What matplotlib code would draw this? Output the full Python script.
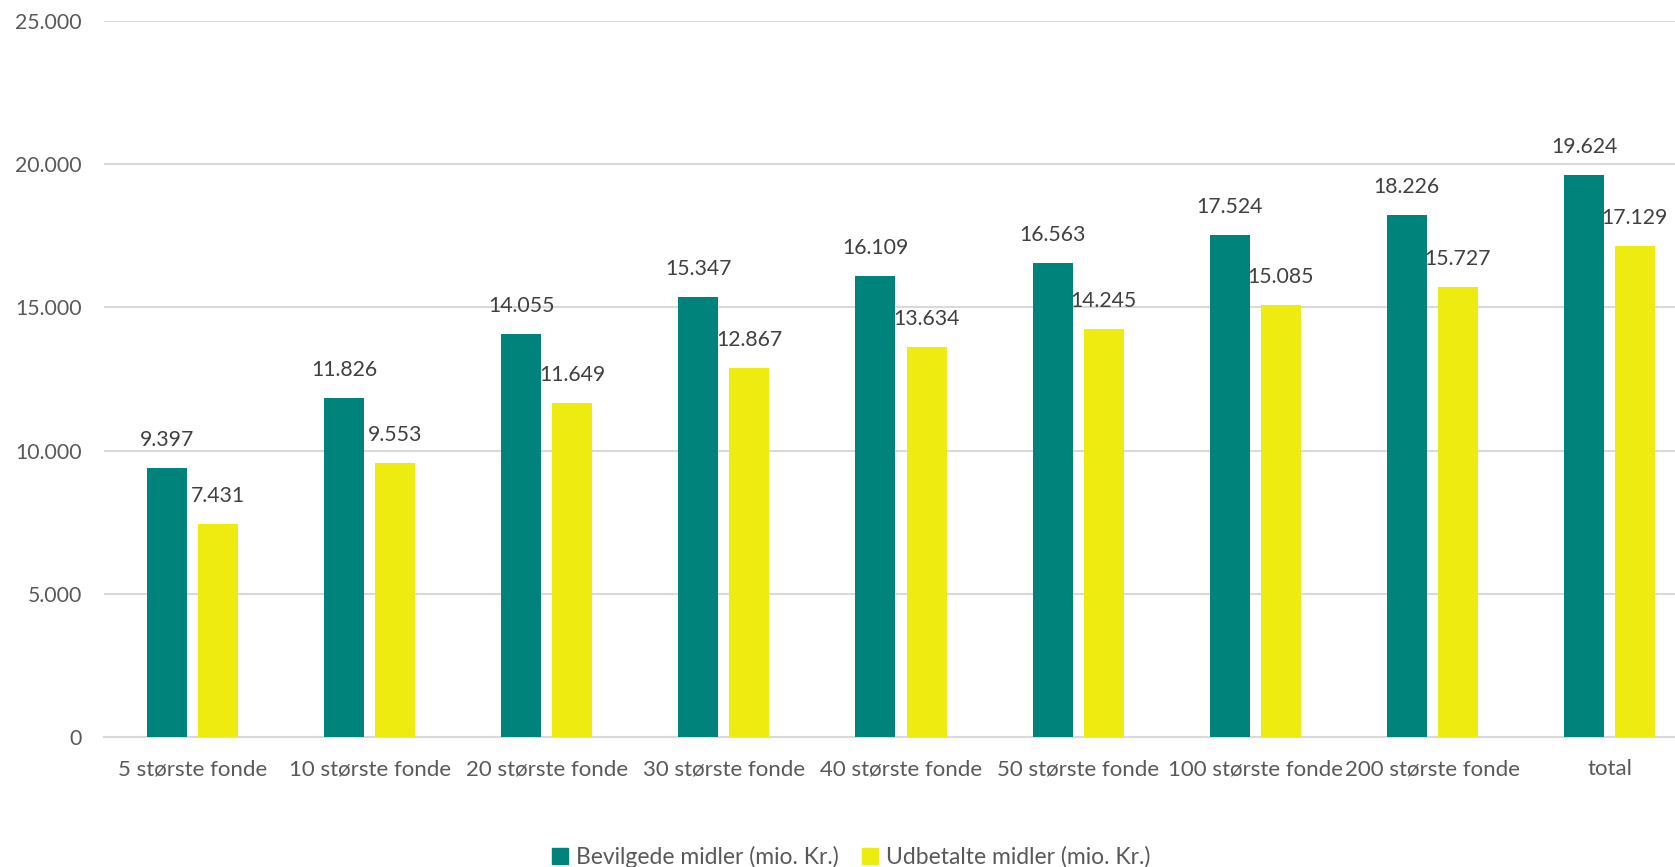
import matplotlib
matplotlib.use("Agg")
import matplotlib.pyplot as plt
from matplotlib.ticker import FuncFormatter
from matplotlib.patches import Patch
import numpy as np

categories = ["5 største fonde", "10 største fonde", "20 største fonde", "30 største fonde",
              "40 største fonde", "50 største fonde", "100 største fonde", "200 største fonde", "total"]
bevilgede = [9397, 11826, 14055, 15347, 16109, 16563, 17524, 18226, 19624]
udbetalte = [7431, 9553, 11649, 12867, 13634, 14245, 15085, 15727, 17129]
series_names = ["Bevilgede midler (mio. Kr.)", "Udbetalte midler (mio. Kr.)"]
yticks = [0, 5000, 10000, 15000, 20000, 25000]

GREEN = "#00837A"
YELLOW = "#EEEB10"
TXT = "#595959"
LBL = "#404040"
GRID = "#D9D9D9"

plt.rcParams['font.family'] = ['Lato', 'DejaVu Sans']

W, H = 1675, 867
fig = plt.figure(figsize=(W / 100, H / 100), dpi=100)
left, right, bottom, top = 104, 1698, 737, 21
ax = fig.add_axes([left / W, 1 - bottom / H, (right - left) / W, (bottom - top) / H])

x = np.arange(len(categories))
bw = 40 / 177
off = 25.5 / 177
b1 = ax.bar(x - off, bevilgede, bw, color=GREEN, zorder=3)
b2 = ax.bar(x + off, udbetalte, bw, color=YELLOW, zorder=3)

def fmt(v, pos=None):
    return f"{int(round(v)):,}".replace(",", ".")

for bars, vals in ((b1, bevilgede), (b2, udbetalte)):
    for r, v in zip(bars, vals):
        ax.annotate(fmt(v), (r.get_x() + r.get_width() / 2, v), xytext=(0, 18),
                    textcoords='offset pixels', ha='center', va='bottom',
                    fontsize=15.3, color=LBL, zorder=4)

ax.set_xlim(-0.5, len(categories) - 0.5)
ax.set_ylim(0, 25000)
ax.set_yticks(yticks)
ax.yaxis.set_major_formatter(FuncFormatter(fmt))
ax.set_xticks(x)
ax.set_xticklabels(categories)
ax.tick_params(axis='y', length=0, labelsize=15.3, colors=TXT, pad=16)
ax.tick_params(axis='x', length=0, labelsize=16, colors=TXT, pad=16)
ax.grid(axis='y', color=GRID, linewidth=1.5, zorder=0)
for s in ("top", "right", "left"):
    ax.spines[s].set_visible(False)
ax.spines["bottom"].set_color(GRID)
ax.spines["bottom"].set_linewidth(1.5)
ax.spines["bottom"].set_zorder(2)

handles = [Patch(color=GREEN), Patch(color=YELLOW)]
fig.legend(handles, series_names, loc='center', bbox_to_anchor=(851 / W, 1 - 857 / H),
           ncol=2, frameon=False, fontsize=16.5, labelcolor=TXT,
           handlelength=0.7, handleheight=0.7, handletextpad=0.35, columnspacing=1.0)

fig.savefig("out.png", dpi=100)
